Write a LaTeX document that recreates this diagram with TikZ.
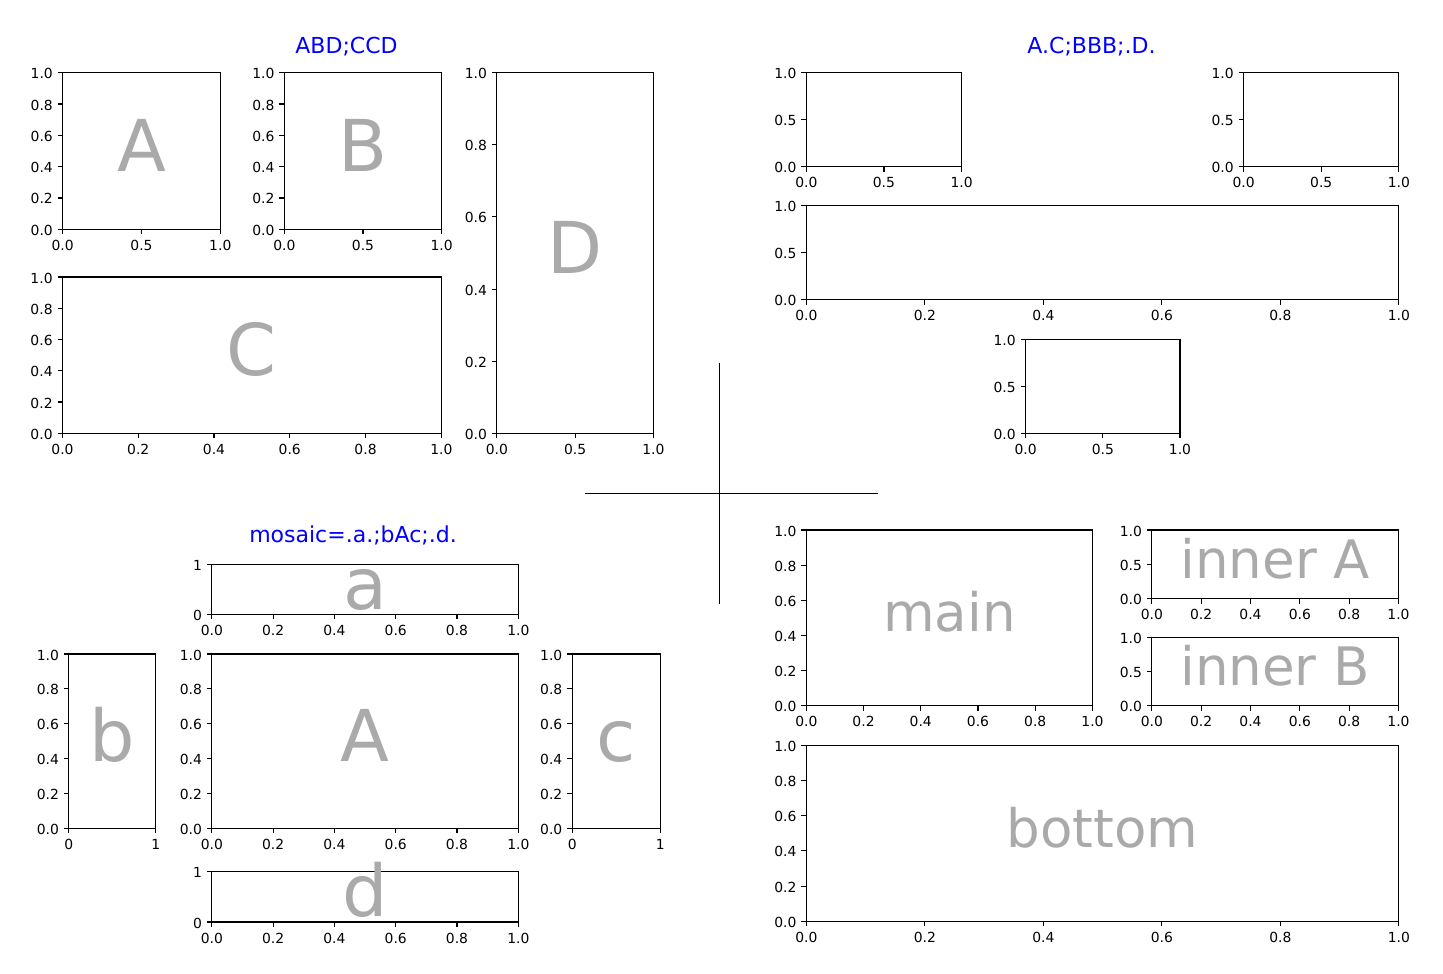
\documentclass[tikz,border=0pt]{standalone}
\usepackage{fontspec}
\setmainfont{DejaVu Sans}
\definecolor{bigcol}{HTML}{AAAAAA}
\definecolor{titleblue}{HTML}{0000FF}
\tikzset{
  spine/.style={line width=1.1pt, black},
  tickmark/.style={line width=1.1pt, black},
  ticklab/.style={inner sep=0pt, font=\fontsize{13.9}{16}\selectfont},
  bigletter/.style={inner sep=0pt, anchor=base, text=bigcol, font=\fontsize{71.5}{80}\selectfont},
  bigword/.style={inner sep=0pt, anchor=base, text=bigcol, font=\fontsize{53}{60}\selectfont},
  paneltitle/.style={inner sep=0pt, anchor=base, text=titleblue, font=\fontsize{22}{26}\selectfont},
  divider/.style={line width=1.1pt, black}
}
\def\tfive{0/0.0,0.2/0.2,0.4/0.4,0.6/0.6,0.8/0.8,1/1.0}
\def\tthree{0/0.0,0.5/0.5,1/1.0}
\def\ttwo{0/0,1/1}
% #1 name, #2 left, #3 top, #4 right, #5 bottom, #6 x ticks, #7 y ticks
\newcommand{\mplax}[7]{%
  \coordinate (#1nw) at (#2,#3);
  \coordinate (#1se) at (#4,#5);
  \draw[spine] (#1nw) rectangle (#1se);
  \foreach \v/\l [count=\i] in #6 {
    \pgfmathsetmacro{\tx}{#2+\v*(#4-#2)}
    \draw[tickmark] (\tx,#5) -- ++(0,4.86);
    \node[ticklab, anchor=base] (#1x\i) at (\tx,#5+21) {\l};
  }
  \foreach \v/\l [count=\i] in #7 {
    \pgfmathsetmacro{\ty}{#5-\v*(#5-#3)}
    \draw[tickmark] (#2,\ty) -- ++(-4.86,0);
    \node[ticklab, anchor=base east] (#1y\i) at (#2-9.7,\ty+6) {\l};
  }
}
\begin{document}
\begin{tikzpicture}[x=1pt,y=-1pt]
\useasboundingbox (0,0) rectangle (1443,974);

% ---------- panel 1: ABD;CCD ----------
\node[paneltitle] (t1) at (346.5,53.3) {ABD;CCD};
\mplax{pA}{62.7}{72.7}{220.3}{229.3}{\tthree}{\tfive}
\mplax{pB}{284.3}{72.7}{441.7}{229.3}{\tthree}{\tfive}
\mplax{pC}{62.5}{277}{441.3}{433.3}{\tfive}{\tfive}
\mplax{pD}{496.9}{72.7}{653.4}{433.3}{\tthree}{\tfive}
\node[bigletter] (lA) at (141.5,171) {A};
\node[bigletter] (lB) at (363,171) {B};
\node[bigletter] (lC) at (251.9,375.2) {C};
\node[bigletter] (lD) at (575.2,273) {D};

% ---------- panel 2: A.C;BBB;.D. ----------
\node[paneltitle] (t2) at (1091.5,53.3) {A.C;BBB;.D.};
\mplax{qA}{806.3}{72.7}{961.6}{166.7}{\tthree}{\tthree}
\mplax{qC}{1243.6}{72.7}{1398.9}{166.7}{\tthree}{\tthree}
\mplax{qB}{806.3}{205.7}{1398.9}{299.7}{\tfive}{\tthree}
\mplax{qD}{1025.6}{339.7}{1180}{433.3}{\tthree}{\tthree}

% ---------- panel 3: mosaic ----------
\node[paneltitle] (t3) at (353,542.7) {mosaic=.a.;bAc;.d.};
\mplax{ra}{211.9}{564.3}{518.3}{614.3}{\tfive}{\ttwo}
\mplax{rb}{68.8}{654}{155.9}{828.3}{\ttwo}{\tfive}
\mplax{rA}{211.9}{654}{518.3}{828.3}{\tfive}{\tfive}
\mplax{rc}{572.2}{654}{660.2}{828.3}{\ttwo}{\tfive}
\mplax{rd}{211.9}{871.7}{518.3}{922}{\tfive}{\ttwo}
\node[bigletter] (la) at (365.1,609.3) {a};
\node[bigletter] (lb) at (112.4,761.2) {b};
\node[bigletter] (lA2) at (365.1,761.2) {A};
\node[bigletter] (lc) at (616.2,761.2) {c};
\node[bigletter] (ld) at (365.1,916.9) {d};

% ---------- panel 4: nested ----------
\mplax{smain}{806.3}{530}{1092.5}{705.7}{\tfive}{\tfive}
\mplax{sia}{1151.8}{530}{1398.5}{598.7}{\tfive}{\tthree}
\mplax{sib}{1151.8}{637.7}{1398.5}{705.7}{\tfive}{\tthree}
\mplax{sbot}{806.3}{745.3}{1398.9}{921.3}{\tfive}{\tfive}
\node[bigword] (wmain) at (949.4,631.9) {main};
\node[bigword] (wia) at (1275.2,578.4) {inner A};
\node[bigword] (wib) at (1275.2,685.7) {inner B};
\node[bigword] (wbot) at (1102.6,847.3) {bottom};

% ---------- divider cross ----------
\coordinate (vtop) at (719.3,362.7);
\coordinate (vbot) at (719.3,604);
\coordinate (hleft) at (584.7,493.3);
\coordinate (hright) at (878.3,493.3);
\draw[divider] (vtop) -- (vbot);
\draw[divider] (hleft) -- (hright);
\end{tikzpicture}
\end{document}
